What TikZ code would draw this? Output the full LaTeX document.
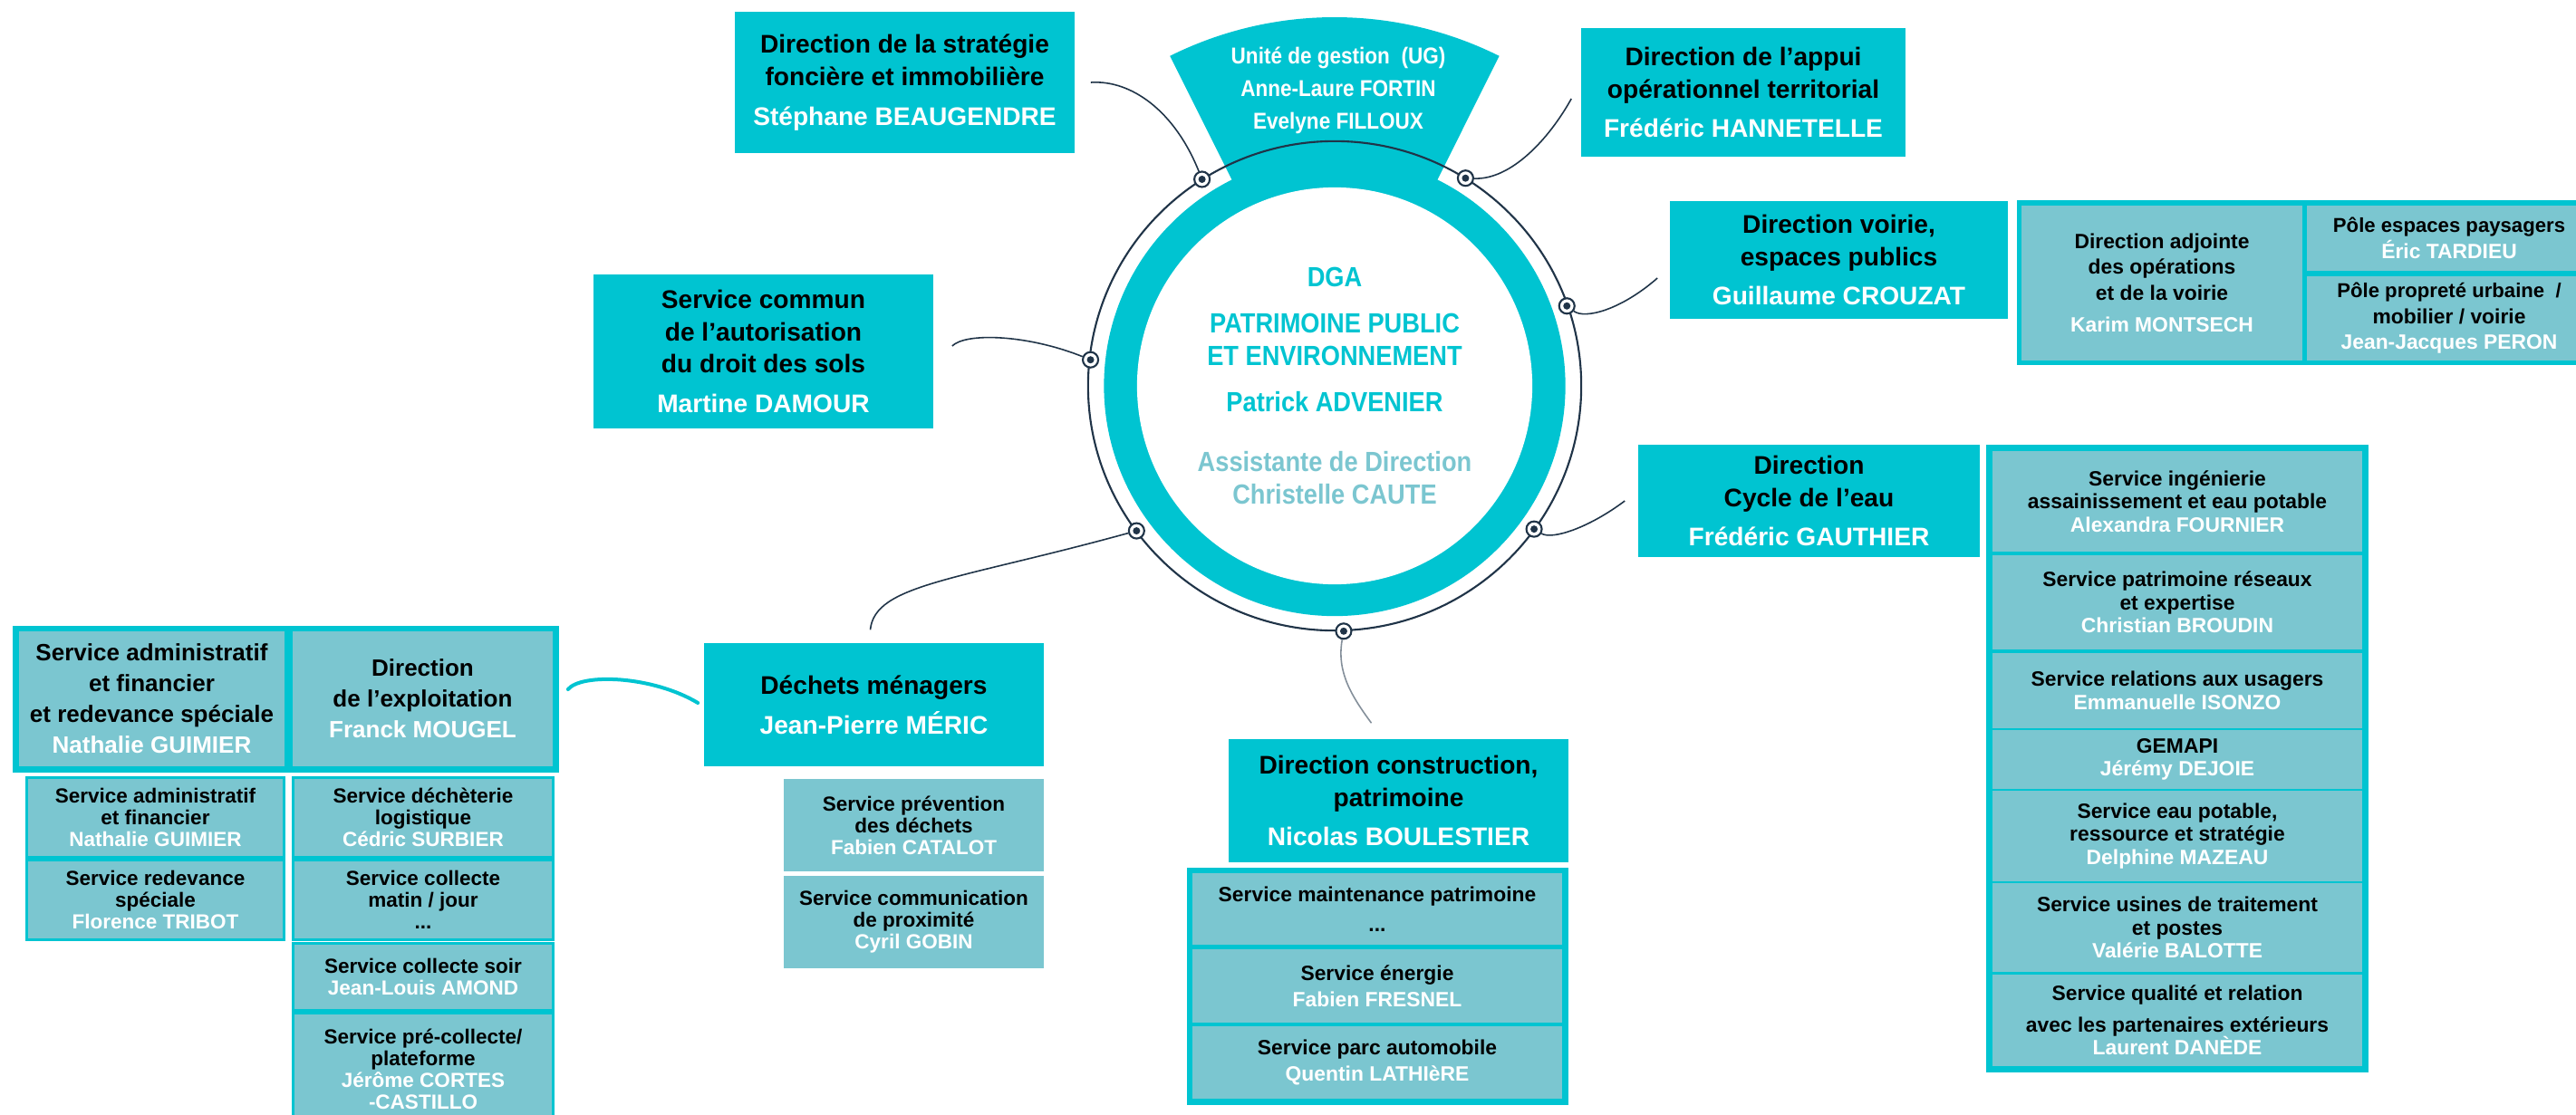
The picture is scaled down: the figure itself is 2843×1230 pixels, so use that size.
\documentclass[tikz,border=0pt]{standalone}
\usepackage{fontspec}
\setmainfont{Liberation Sans}
\newfontfamily\dinfont{Liberation Sans}[FakeStretch=0.89]
\usetikzlibrary{calc}
\definecolor{cy}{RGB}{0,196,209}
\definecolor{lt}{RGB}{123,198,208}
\definecolor{nv}{RGB}{32,52,72}
\newcommand\fsHead{\fontsize{8}{10.2}\selectfont}
\newcommand\fsExp{\fontsize{7.4}{9.7}\selectfont}
\newcommand\fsSub{\fontsize{6.4}{6.8}\selectfont}
\newcommand\fsCyc{\fontsize{6.5}{7.3}\selectfont}
\newcommand\fsVoi{\fontsize{6.5}{8.1}\selectfont}
\newcommand\fsCon{\fontsize{6.5}{8.2}\selectfont}
\newcommand\nm[1]{\textcolor{white}{#1}}
\newcommand\bx[7]{%
  \pgfmathsetmacro\bxw{(#5-#3)/100}%
  \pgfmathsetmacro\bxh{(#6-#4)/100}%
  \pgfmathsetmacro\bxx{(#3+#5)/2}%
  \pgfmathsetmacro\bxy{-(#4+#6)/2}%
  \node[#1, minimum width=\bxw cm, minimum height=\bxh cm] (#2) at (\bxx,\bxy) {#7};}
\tikzset{
  hdr/.style={fill=cy, inner sep=0pt, align=center, font=\bfseries\fsHead},
  frame/.style={fill=cy, inner sep=0pt},
  expcell/.style={fill=lt, inner sep=0pt, align=center, font=\bfseries\fsExp},
  subcell/.style={fill=lt, draw=cy, line width=0.03cm, inner sep=0pt, align=center, font=\bfseries\fsSub},
  plaincell/.style={fill=lt, inner sep=0pt, align=center, font=\bfseries\fsSub},
  cyccell/.style={fill=lt, inner sep=0pt, align=center, font=\bfseries\fsCyc},
  voicell/.style={fill=lt, inner sep=0pt, align=center, font=\bfseries\fsVoi},
  concell/.style={fill=lt, inner sep=0pt, align=center, font=\bfseries\fsCon},
  dotn/.style={circle, draw=nv, fill=white, line width=0.6pt, minimum size=0.17cm, inner sep=0pt,
    path picture={\fill[nv] (path picture bounding box.center) circle (0.04cm);}},
  conn/.style={draw=nv, line width=0.45pt},
  cyconn/.style={draw=cy, line width=0.04cm, line cap=round}
}
\begin{document}
\begin{tikzpicture}[x=0.01cm,y=0.01cm]
\useasboundingbox (0,0) rectangle (2843,-1230);
\fill[white] (0,0) rectangle (2843,-1230);
\coordinate (C) at (1473,-426);
% ring
\fill[cy] (C) ellipse [x radius=2.545cm, y radius=2.54cm];
\fill[cy] ($(C)+(63.5:230)$) -- ($(C)+(63.5:407)$) arc[start angle=63.5, end angle=116.5, radius=4.07cm] -- ($(C)+(116.5:230)$) -- cycle;
\fill[white] (C) ellipse [x radius=2.18cm, y radius=2.19cm];
\draw[nv, line width=0.6pt] (C) ellipse [x radius=2.72cm, y radius=2.70cm];
\node[font=\dinfont\bfseries\fontsize{7.2}{10.2}\selectfont, text=white, align=center] (ug) at (1477,-100)
  {Unité de gestion\ \ (UG)\\Anne-Laure FORTIN\\Evelyne FILLOUX};
\node[font=\dinfont\bfseries\fontsize{8.7}{10.2}\selectfont, text=cy, align=center] (dga) at (C)
  {DGA\\[4.3pt]PATRIMOINE PUBLIC\\ET ENVIRONNEMENT\\[4.3pt]Patrick ADVENIER\\[8.6pt]\textcolor{lt}{Assistante de Direction}\\\textcolor{lt}{Christelle CAUTE}};
% header boxes
\bx{hdr}{strat}{811}{13}{1186}{169}{Direction de la stratégie\\foncière et immobilière\\[2.3pt]\nm{Stéphane BEAUGENDRE}}
\bx{hdr}{appui}{1745}{31}{2103}{173}{Direction de l’appui\\opérationnel territorial\\[2.3pt]\nm{Frédéric HANNETELLE}}
\bx{hdr}{voirie}{1843}{222}{2216}{352}{Direction voirie,\\espaces publics\\[2pt]\nm{Guillaume CROUZAT}}
\bx{hdr}{commun}{655}{303}{1030}{473}{Service commun\\de l’autorisation\\du droit des sols\\[2.3pt]\nm{Martine DAMOUR}}
\bx{hdr}{cycle}{1808}{491}{2185}{615}{Direction\\Cycle de l’eau\\[2.3pt]\nm{Frédéric GAUTHIER}}
\bx{hdr}{dechets}{777}{710}{1152}{846}{Déchets ménagers\\[2.3pt]\nm{Jean-Pierre MÉRIC}}
\bx{hdr}{construct}{1356}{816}{1731}{952}{Direction construction,\\patrimoine\\[2.3pt]\nm{Nicolas BOULESTIER}}
% voirie group
\bx{frame}{voframe}{2226}{221}{2870}{403}{}
\bx{voicell}{voL}{2231}{227}{2541}{398}{Direction adjointe\\des opérations\\et de la voirie\\[2pt]\nm{Karim MONTSECH}}
\bx{voicell}{voT}{2546}{227}{2860}{299}{\fontsize{6.3}{9.7}\selectfont Pôle espaces paysagers\\\nm{Éric TARDIEU}}
\bx{voicell}{voB}{2546}{305}{2860}{398}{\fontsize{6.3}{8}\selectfont Pôle propreté urbaine\ \ /\\mobilier / voirie\\\nm{Jean-Jacques PERON}}
% exploitation group
\bx{frame}{exframe}{14}{691}{617}{853}{}
\bx{expcell}{exL}{21}{697}{314}{846}{Service administratif\\et financier\\et redevance spéciale\\\nm{Nathalie GUIMIER}}
\bx{expcell}{exR}{323}{697}{610}{846}{Direction\\de l’exploitation\\\nm{Franck MOUGEL}}
\bx{subcell}{exL1}{30}{859}{313}{946}{Service administratif\\et financier\\\nm{Nathalie GUIMIER}}
\bx{subcell}{exL2}{30}{950}{313}{1037}{Service redevance\\spéciale\\\nm{Florence TRIBOT}}
\bx{subcell}{exR1}{324}{859}{610}{946}{Service déchèterie\\logistique\\\nm{Cédric SURBIER}}
\bx{subcell}{exR2}{324}{950}{610}{1037}{Service collecte\\matin / jour\\...}
\bx{subcell}{exR3}{324}{1042}{610}{1115}{Service collecte soir\\\nm{Jean-Louis AMOND}}
\bx{subcell}{exR4}{324}{1119}{610}{1242}{Service pré-collecte/\\plateforme\\\nm{Jérôme CORTES}\\\nm{-CASTILLO}}
% dechets sub
\bx{plaincell}{deS1}{865}{860}{1152}{962}{Service prévention\\des déchets\\\nm{Fabien CATALOT}}
\bx{plaincell}{deS2}{865}{967}{1152}{1069}{Service communication\\de proximité\\\nm{Cyril GOBIN}}
% construction group
\bx{frame}{coframe}{1310}{958}{1731}{1220}{}
\bx{concell}{coS1}{1316}{964}{1724}{1043}{Service maintenance patrimoine\\[1.2pt]...}
\bx{concell}{coS2}{1316}{1048}{1724}{1129}{Service énergie\\\nm{Fabien FRESNEL}}
\bx{concell}{coS3}{1316}{1133}{1724}{1213}{Service parc automobile\\\nm{Quentin LATHIèRE}}
% cycle group
\bx{frame}{cyframe}{2192}{491}{2614}{1184}{}
\bx{cyccell}{cyS1}{2199}{498}{2607}{609}{Service ingénierie\\assainissement et eau potable\\\nm{Alexandra FOURNIER}}
\bx{cyccell}{cyS2}{2199}{613}{2607}{717}{Service patrimoine réseaux\\et expertise\\\nm{Christian BROUDIN}}
\bx{cyccell}{cyS3}{2199}{721}{2607}{804}{Service relations aux usagers\\\nm{Emmanuelle ISONZO}}
\bx{cyccell}{cyS4}{2199}{806}{2607}{871}{GEMAPI\\\nm{Jérémy DEJOIE}}
\bx{cyccell}{cyS5}{2199}{873}{2607}{973}{Service eau potable,\\ressource et stratégie\\\nm{Delphine MAZEAU}}
\bx{cyccell}{cyS6}{2199}{975}{2607}{1073}{Service usines de traitement\\et postes\\\nm{Valérie BALOTTE}}
\bx{cyccell}{cyS7}{2199}{1076}{2607}{1177}{Service qualité et relation\\[2.5pt]avec les partenaires extérieurs\\\nm{Laurent DANÈDE}}
% dots
\node[dotn] (d1) at ($(C)+(122.7:271)$) {};
\node[dotn] (d2) at ($(C)+(57.8:271)$) {};
\node[dotn] (d3) at ($(C)+(19:271)$) {};
\node[dotn] (d4) at ($(C)+(173.9:271)$) {};
\node[dotn] (d5) at ($(C)+(-35.7:271)$) {};
\node[dotn] (d6) at ($(C)+(216.2:271)$) {};
\node[dotn] (d7) at ($(C)+(-87.9:271)$) {};
% connector ends
\coordinate (e1) at ($(strat.east)+(17,0)$);
\coordinate (e2) at ($(appui.west)+(-10,-7)$);
\coordinate (e3) at ($(voirie.west)+(-13,-20)$);
\coordinate (e4) at ($(commun.east)+(20,6)$);
\coordinate (e5) at ($(cycle.west)+(-14,0)$);
\coordinate (e6) at ($(dechets.north)+(-4,14)$);
\coordinate (e7) at ($(construct.north)+(-30,17)$);
\coordinate (e8a) at ($(exframe.east)+(9,11)$);
\coordinate (e8b) at ($(dechets.west)+(-6,2)$);
\draw[conn] (e1) .. controls +(45,3) and +(-30,75) .. (d1);
\draw[conn] (d2) .. controls +(50,-2) and +(-25,-45) .. (e2);
\draw[conn] (d3) .. controls +(20,-15) and +(-40,-35) .. (e3);
\draw[conn] (e4) .. controls +(15,15) and +(-70,28) .. (d4);
\draw[conn] (d5) .. controls +(20,-12) and +(-40,-30) .. (e5);
\draw[conn] (d6) .. controls +(-200,-55) and +(5,50) .. (e6);
\draw[conn, draw=nv!55] (d7) .. controls +(-8,-45) and +(-22,30) .. (e7);
\draw[cyconn] (e8a) .. controls +(15,18) and +(-50,30) .. (e8b);
\end{tikzpicture}
\end{document}
